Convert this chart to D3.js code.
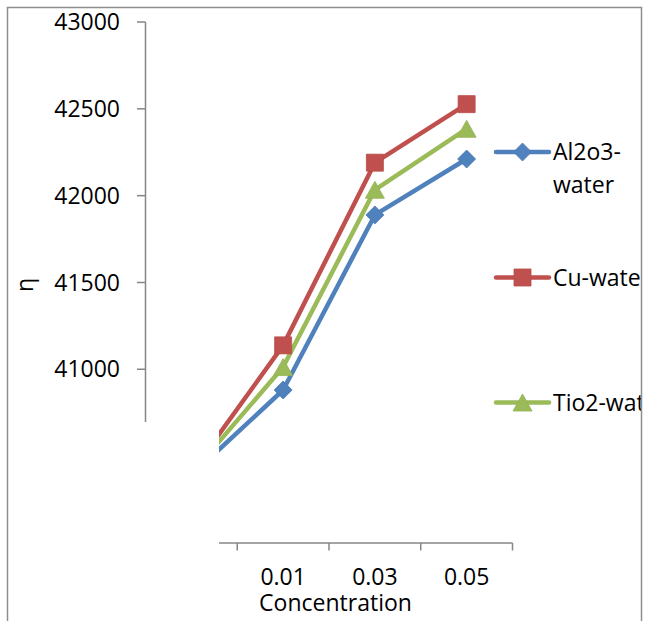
<!DOCTYPE html>
<html>
<head>
<meta charset="utf-8">
<script src="https://cdn.jsdelivr.net/npm/d3@7/dist/d3.min.js"></script>
<style>
  html, body { margin: 0; padding: 0; background: #fff; }
  svg { display: block; }
  text { font-family: "Open Sans", "Noto Sans", sans-serif; fill: #000; }
</style>
</head>
<body>
<script>
// ---- data ----
const categories = ["0", "0.01", "0.03", "0.05"];
const al2o3Water = [40390, 40881, 41889, 42211];
const cuWater    = [40405, 41138, 42190, 42527];
const tio2Water  = [40398, 41013, 42034, 42385];
const seriesNames = ["Al2o3-water", "Cu-water", "Tio2-water"];
const yTickValues = [41000, 41500, 42000, 42500, 43000];
const xTitle = "Concentration";
const yTitle = "η";

// ---- layout ----
const W = 647, H = 621;
const svg = d3.select("body").append("svg").attr("width", W).attr("height", H);

const x = d3.scaleBand().domain(categories).range([145.5, 512.5]);
const y = d3.scaleLinear().domain([40000, 43000]).range([543, 22]);

const fontSize = 23;
const axisColor = "#868686";
const colors = ["#4F81BD", "#C0504D", "#9BBB59"];
const shapes = ["diamond", "square", "triangle"];
const series = [al2o3Water, cuWater, tio2Water];

// outer chart border (bottom edge lies outside the picture)
svg.append("path")
  .attr("d", `M7.5,${H + 2} L7.5,7.5 L641.5,7.5 L641.5,${H + 2}`)
  .attr("fill", "none").attr("stroke", "#8e8e8e").attr("stroke-width", 1.5);

// clip: lower-left block of the plot is blanked in the original
const maskX = 219, maskY = 422;
svg.append("defs").append("clipPath").attr("id", "plotclip")
  .append("path")
  .attr("d", `M0,0 L${W},0 L${W},${H} L${maskX},${H} L${maskX},${maskY} L0,${maskY} Z`);

const plot = svg.append("g").attr("clip-path", "url(#plotclip)");

// y axis
const x0 = x.range()[0];
plot.append("line").attr("x1", x0).attr("x2", x0).attr("y1", y(43000)).attr("y2", y(40000))
  .attr("stroke", axisColor).attr("stroke-width", 1.5);
plot.selectAll(".ytick").data(yTickValues).enter().append("line")
  .attr("x1", x0 - 8.5).attr("x2", x0).attr("y1", d => y(d)).attr("y2", d => y(d))
  .attr("stroke", axisColor).attr("stroke-width", 1.5);
svg.selectAll(".ylab").data(yTickValues).enter().append("text")
  .attr("x", 120).attr("y", d => y(d)).attr("dy", "0.35em")
  .attr("text-anchor", "end").attr("font-size", fontSize)
  .text(d => d);

// x axis (ticks between categories)
const x1 = x.range()[1];
const yBase = y(40000);
plot.append("line").attr("x1", x0).attr("x2", x1).attr("y1", yBase).attr("y2", yBase)
  .attr("stroke", axisColor).attr("stroke-width", 1.5);
const boundaries = categories.map(c => x(c)).concat([x1]);
plot.selectAll(".xtick").data(boundaries).enter().append("line")
  .attr("x1", d => d).attr("x2", d => d).attr("y1", yBase).attr("y2", yBase + 7.5)
  .attr("stroke", axisColor).attr("stroke-width", 1.5);
svg.selectAll(".xlab").data(categories.filter(c => x(c) + x.bandwidth() / 2 > maskX)).enter().append("text")
  .attr("x", d => x(d) + x.bandwidth() / 2).attr("y", 585)
  .attr("text-anchor", "middle").attr("font-size", fontSize)
  .text(d => d);

// axis titles
svg.append("text").attr("x", 335.5).attr("y", 610.5).attr("text-anchor", "middle")
  .attr("font-size", fontSize).text(xTitle);
svg.append("text").attr("transform", "translate(32.5,285) rotate(-90)")
  .attr("text-anchor", "middle").attr("font-size", fontSize).text(yTitle);

// marker path generator
function markerPath(shape) {
  if (shape === "diamond") { const r = 9; return `M0,${-r}L${r},0L0,${r}L${-r},0Z`; }
  if (shape === "square") { const s = 8.5; return `M${-s},${-s}H${s}V${s}H${-s}Z`; }
  const hw = 9.5, hh = 8.5; return `M0,${-hh}L${hw},${hh}L${-hw},${hh}Z`;
}

// series lines
const lineGen = d3.line().x((d, i) => x(categories[i]) + x.bandwidth() / 2).y(d => y(d));
series.forEach((vals, k) => {
  plot.append("path").datum(vals).attr("d", lineGen)
    .attr("fill", "none").attr("stroke", colors[k]).attr("stroke-width", 4.5)
    .attr("stroke-linejoin", "round").attr("stroke-linecap", "round");
});
series.forEach((vals, k) => {
  plot.selectAll(".m" + k).data(vals).enter().append("path")
    .attr("transform", (d, i) => `translate(${x(categories[i]) + x.bandwidth() / 2},${y(d)})`)
    .attr("d", markerPath(shapes[k]))
    .attr("fill", colors[k]).attr("stroke", d3.color(colors[k]).darker(0.15)).attr("stroke-width", 0.8);
});

// legend (clipped at right border, as in the original)
svg.select("defs").append("clipPath").attr("id", "legclip")
  .append("rect").attr("x", 480).attr("y", 0).attr("width", 160.8).attr("height", H);
const leg = svg.append("g").attr("clip-path", "url(#legclip)");
const legY = [152, 277.5, 402.5];
const legLines = [["Al2o3-", "water"], ["Cu-water"], ["Tio2-water"]];
seriesNames.forEach((name, k) => {
  const g = leg.append("g").attr("transform", `translate(0,${legY[k]})`);
  g.append("line").attr("x1", 496).attr("x2", 549).attr("y1", 0).attr("y2", 0)
    .attr("stroke", colors[k]).attr("stroke-width", 4.5).attr("stroke-linecap", "round");
  g.append("path").attr("transform", "translate(522.5,0)").attr("d", markerPath(shapes[k]))
    .attr("fill", colors[k]).attr("stroke", d3.color(colors[k]).darker(0.15)).attr("stroke-width", 0.8);
  const t = g.append("text").attr("x", 553).attr("y", 8).attr("font-size", fontSize);
  legLines[k].forEach((ln, j) => {
    t.append("tspan").attr("x", 553).attr("dy", j === 0 ? 0 : 33).text(ln);
  });
});
</script>
</body>
</html>
